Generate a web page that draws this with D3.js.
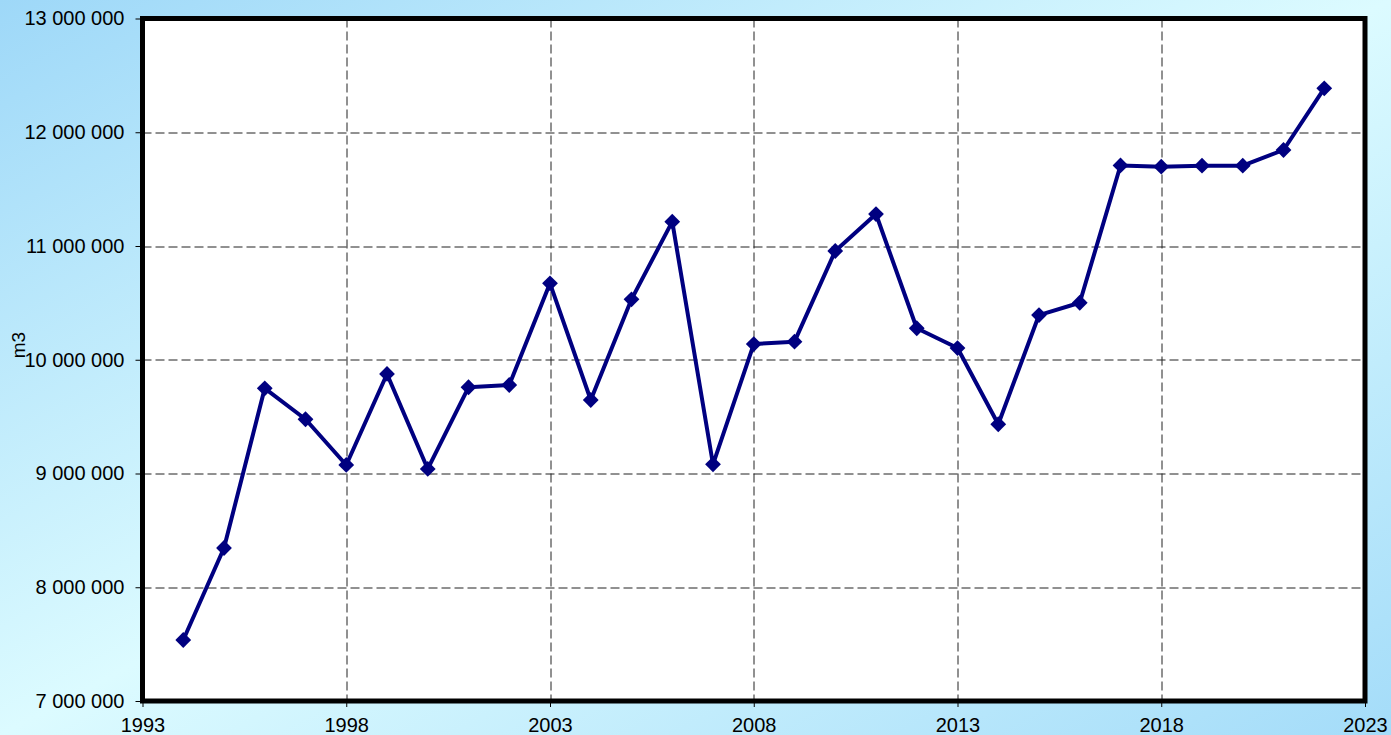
<!DOCTYPE html>
<meta charset="utf-8">
<style>
body { margin: 0; }
svg { display: block; font-family: "Liberation Sans", Arial, sans-serif; }
.grid line { stroke: #222; stroke-width: 1px; stroke-dasharray: 9,4; }
.axis path { display: none; }
.axis line { stroke: #000; }
.line { fill: none; stroke: #000080; stroke-width: 4px; stroke-linejoin: round; }
.dot { fill: #000080; }
</style>
<svg width="1391" height="735"></svg>
<script src="https://d3js.org/d3.v7.min.js"></script>
<script>
var years = [1994, 1995, 1996, 1997, 1998, 1999, 2000, 2001, 2002, 2003, 2004, 2005, 2006, 2007,
             2008, 2009, 2010, 2011, 2012, 2013, 2014, 2015, 2016, 2017, 2018, 2019, 2020, 2021, 2022];
var volumes = [7536000, 8345000, 9749000, 9477000, 9075000, 9875000, 9040000, 9758000, 9778000,
               10672000, 9646000, 10531000, 11214000, 9081000, 10138000, 10159000, 10956000,
               11281000, 10277000, 10103000, 9433000, 10393000, 10501000, 11708000, 11697000,
               11706000, 11706000, 11844000, 12386000];
var xTicks = [1993, 1998, 2003, 2008, 2013, 2018, 2023];
var yTicks = [7000000, 8000000, 9000000, 10000000, 11000000, 12000000, 13000000];
var yLabel = "m3";

var svg = d3.select("svg"),
    margin = {top: 18.5, right: 26, bottom: 34, left: 142.5},
    width = svg.attr("width") - margin.left - margin.right,
    height = svg.attr("height") - margin.top - margin.bottom;

// background gradient
var defs = svg.append("defs");
var grad = defs.append("linearGradient").attr("id", "bg")
    .attr("x1", "0%").attr("y1", "0%").attr("x2", "100%").attr("y2", "100%");
grad.append("stop").attr("offset", "0%").attr("stop-color", "#9ed8f8");
grad.append("stop").attr("offset", "50%").attr("stop-color", "#dcfbff");
grad.append("stop").attr("offset", "100%").attr("stop-color", "#a4dcf9");
svg.append("rect").attr("width", 1391).attr("height", 735).attr("fill", "url(#bg)");

var g = svg.append("g").attr("transform", "translate(" + margin.left + "," + margin.top + ")");

var x = d3.scaleLinear().domain([1993, 2023]).range([0, width]),
    y = d3.scaleLinear().domain([7000000, 13000000]).range([height, 0]);

g.append("rect").attr("width", width).attr("height", height).attr("fill", "#fff");

var fmt = function(d) { return d3.format(",")(d).replace(/,/g, " "); };

g.append("g").attr("class", "grid")
  .selectAll("line").data(yTicks.slice(1, -1)).enter().append("line")
    .attr("x1", 0).attr("x2", width)
    .attr("y1", function(d) { return Math.round(y(d)) + 0.5; })
    .attr("y2", function(d) { return Math.round(y(d)) + 0.5; });
g.append("g").attr("class", "grid")
  .selectAll("line").data(xTicks.slice(1, -1)).enter().append("line")
    .attr("y1", 0).attr("y2", height)
    .attr("x1", function(d) { return Math.round(x(d)) + 0.5; })
    .attr("x2", function(d) { return Math.round(x(d)) + 0.5; });

var yAxis = g.append("g")
    .attr("class", "axis axis--y")
    .call(d3.axisLeft(y).tickValues(yTicks).tickFormat(fmt).tickSize(7).tickPadding(11));

var xAxis = g.append("g")
    .attr("class", "axis axis--x")
    .attr("transform", "translate(0," + height + ")")
    .call(d3.axisBottom(x).tickValues(xTicks).tickFormat(d3.format("d")).tickSize(6).tickPadding(11));

g.selectAll(".axis")
    .attr("font-family", null)
    .attr("font-size", null)
  .selectAll("text")
    .style("font-family", "'Liberation Sans', Arial, sans-serif")
    .style("font-size", "20px")
    .style("fill", "#000");

svg.append("text")
    .attr("transform", "translate(25,345) rotate(-90)")
    .attr("text-anchor", "middle")
    .style("font-size", "19px")
    .text(yLabel);

var line = d3.line()
    .x(function(d, i) { return x(years[i]); })
    .y(function(d) { return y(d); });

g.append("path").datum(volumes).attr("class", "line").attr("d", line);

g.selectAll(".dot").data(volumes).enter().append("path")
    .attr("class", "dot")
    .attr("d", d3.symbol().type(d3.symbolSquare).size(125))
    .attr("transform", function(d, i) { return "translate(" + x(years[i]) + "," + y(d) + ") rotate(45)"; });

// frame
g.append("rect").attr("width", width).attr("height", height)
    .attr("fill", "none").attr("stroke", "#000").attr("stroke-width", 5);
</script>
